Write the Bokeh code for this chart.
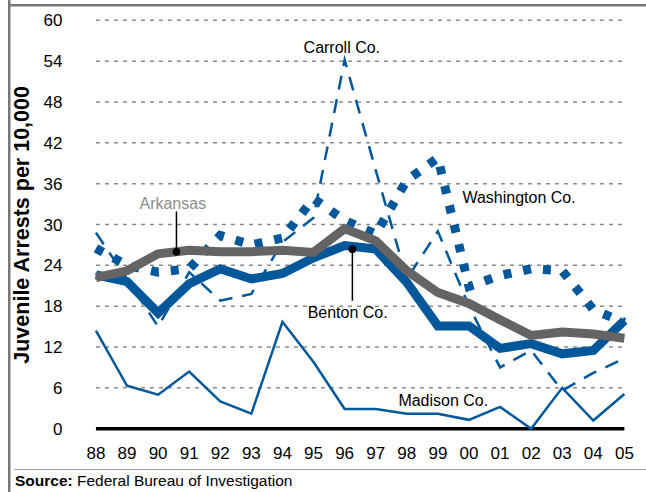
from bokeh.plotting import figure
from bokeh.models import Range1d, FixedTicker, Label, Div
from bokeh.layouts import column
from bokeh.embed import file_html
from bokeh.resources import INLINE
import numpy as np

# ---------------- data ----------------
years = ["88", "89", "90", "91", "92", "93", "94", "95", "96",
         "97", "98", "99", "00", "01", "02", "03", "04", "05"]
y_ticks = [0, 6, 12, 18, 24, 30, 36, 42, 48, 54, 60]

arkansas = [22.2, 23.2, 25.7, 26.2, 26.0, 26.0, 26.2, 25.9, 29.4,
            27.6, 23.2, 20.0, 18.4, 16.0, 13.7, 14.2, 13.9, 13.3]
benton = [22.6, 21.6, 17.0, 21.3, 23.5, 22.0, 22.8, 25.1, 26.9,
          26.4, 21.5, 15.1, 15.1, 11.8, 12.5, 11.0, 11.5, 15.9]
madison = [14.4, 6.3, 5.0, 8.4, 4.0, 2.2, 15.7, 9.8, 2.9,
           2.9, 2.2, 2.2, 1.3, 3.2, 0.0, 6.0, 1.2, 5.1]
carroll = [28.8, 22.0, 15.0, 23.0, 18.8, 19.8, 27.4, 31.0, 54.2,
           38.0, 22.0, 29.0, 18.0, 9.0, 11.5, 5.6, 8.2, 10.3]
washington = [26.5, 24.0, 23.0, 23.5, 28.4, 27.0, 28.0, 33.8, 30.6,
              28.6, 36.5, 39.8, 20.9, 22.5, 23.5, 23.2, 17.5, 15.6]

source_label = "Source:"
source_text = "Federal Bureau of Investigation"

# ---------------- styles ----------------
BLUE = "#00579a"
GREY = "#646464"
FONT = "Liberation Sans"
W, H = 646, 469

xs = list(range(len(years)))

p = figure(width=W, height=H, output_backend="svg", toolbar_location=None,
           x_range=Range1d(-0.4, 17.1), y_range=Range1d(-1, 61),
           min_border_left=83, min_border_right=19, min_border_top=13,
           min_border_bottom=H - 435)
p.outline_line_color = None
p.xgrid.visible = False
p.ygrid.visible = False
p.background_fill_color = None
p.border_fill_color = None

# axes
p.xaxis.ticker = FixedTicker(ticks=xs)
p.xaxis.major_label_overrides = {i: y for i, y in enumerate(years)}
p.yaxis.ticker = FixedTicker(ticks=y_ticks)
for ax in (p.xaxis[0], p.yaxis[0]):
    ax.axis_line_color = None
    ax.major_tick_line_color = None
    ax.minor_tick_line_color = None
    ax.major_tick_out = 0
    ax.major_tick_in = 0
    ax.major_label_text_font = FONT
    ax.major_label_text_font_size = "17px"
    ax.major_label_text_color = "black"
p.xaxis.major_label_standoff = 11
p.yaxis.major_label_standoff = 21
p.yaxis.axis_label = "Juvenile Arrests per 10,000"
p.yaxis.axis_label_text_font = FONT
p.yaxis.axis_label_text_font_style = "bold"
p.yaxis.axis_label_text_font_size = "21.5px"
p.yaxis.axis_label_text_color = "black"
p.yaxis.axis_label_standoff = 7

# gridlines (dashed) spanning the year extent
grid_vals = [v for v in y_ticks if v != 0]
p.segment(x0=[xs[0]] * len(grid_vals), x1=[xs[-1]] * len(grid_vals),
          y0=grid_vals, y1=grid_vals, line_color="#8a8a8a",
          line_width=1.5, line_dash="4 5")
p.segment(x0=[xs[0]], x1=[xs[-1]], y0=[0], y1=[0], line_color="black",
          line_width=3.5)

# series
p.line(xs, madison, line_color=BLUE, line_width=2.5, line_join="miter")
p.line(xs, carroll, line_color=BLUE, line_width=2.5, line_dash="14 10",
       line_join="miter")
p.line(xs, washington, line_color=BLUE, line_width=9, line_dash="8 12",
       line_cap="butt", line_join="miter")
p.line(xs, benton, line_color=BLUE, line_width=9, line_join="miter")
p.line(xs, arkansas, line_color=GREY, line_width=9, line_join="miter")

# leader lines with dots
ark_x = 2.59
ark_y = float(np.interp(ark_x, xs, arkansas))
p.segment(x0=[ark_x], x1=[ark_x], y0=[ark_y], y1=[31.9], line_color="black",
          line_width=1.5)
p.scatter([ark_x], [ark_y], size=7, color="black")

ben_x = 8.25
ben_y = float(np.interp(ben_x, xs, benton)) - 0.4
p.segment(x0=[ben_x], x1=[ben_x], y0=[ben_y], y1=[18.8], line_color="black",
          line_width=1.5)
p.scatter([ben_x], [ben_y], size=7, color="black")

# series labels
def lab(x, y, text, color="black", size="16px", style="normal"):
    p.add_layout(Label(x=x, y=y, text=text, text_font=FONT,
                       text_font_size=size, text_color=color,
                       text_font_style=style, text_align="left",
                       text_baseline="middle"))

lab(6.68, 56.0, "Carroll Co.")
lab(1.40, 33.1, "Arkansas", color="#8c8c8c")
lab(11.79, 34.0, "Washington Co.")
lab(6.81, 17.1, "Benton Co.")
lab(9.73, 4.1, "Madison Co.")

# source line below the chart
src = Div(
    text=(f'<div style="margin-left:14px;width:632px;'
          f'border-top:1.5px solid #999999;padding-left:1px;'
          f'font-family:\'{FONT}\';font-size:15.5px;'
          f'line-height:21px;color:black;white-space:nowrap;">'
          f'<b>{source_label}</b> {source_text}</div>'),
    width=W, height=492 - H, margin=0)

layout = column(
    p, src,
    styles={
        "background": ("linear-gradient(#777777,#777777) 7.5px 0px / 2.5px 100% no-repeat, "
                       "linear-gradient(#777777,#777777) 7.5px 4px / 100% 2.5px no-repeat, "
                       "white"),
    },
)

open("out.html", "w").write(file_html(layout, INLINE))
